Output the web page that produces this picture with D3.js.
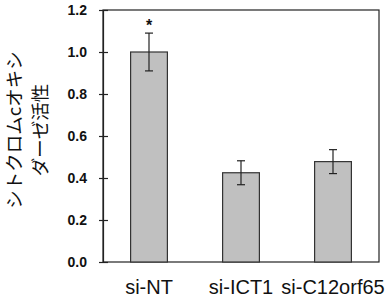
<!DOCTYPE html>
<html><head><meta charset="utf-8">
<script src="https://cdn.jsdelivr.net/npm/d3@7"></script>
<style>
html,body{margin:0;padding:0;background:#fff;}
svg{display:block;}
</style></head>
<body>
<script>
const categories = ["si-NT", "si-ICT1", "si-C12orf65"];
const values = [1.0, 0.425, 0.478];
const errors = [0.09, 0.057, 0.057];
const stars = ["*", "", ""];
const yTicks = [0, 0.2, 0.4, 0.6, 0.8, 1.0, 1.2];
const yTitleLines = ["シトクロムcオキシ", "ダーゼ活性"];

const W = 386, H = 306;
const m = {left: 103, right: 7, top: 10, bottom: 44};
const svg = d3.select("body").append("svg").attr("width", W).attr("height", H);

const x = d3.scaleBand().domain(categories).range([m.left, W - m.right]).paddingInner(0.6).paddingOuter(0.3);
const y = d3.scaleLinear().domain([0, 1.2]).range([H - m.bottom, m.top]);

// frame
svg.append("rect").attr("x", m.left).attr("y", y(1.2)).attr("width", W - m.right - m.left)
  .attr("height", y(0) - y(1.2)).attr("fill", "none").attr("stroke", "#222").attr("stroke-width", 1.2);

// y axis
const yAxis = d3.axisLeft(y).tickValues(yTicks).tickFormat(d3.format(".1f")).tickSizeInner(4).tickSizeOuter(0).tickPadding(12);
const ga = svg.append("g").attr("transform", `translate(${m.left},0)`).call(yAxis);
ga.select(".domain").attr("stroke", "#222").attr("stroke-width", 1.2);
ga.selectAll(".tick line").attr("x2", 5).attr("x1", -4).attr("stroke", "#222").attr("stroke-width", 1.2);
ga.selectAll(".tick text").attr("font-family", "Liberation Sans, Arial, sans-serif").attr("font-weight", "bold")
  .attr("font-size", 14).attr("fill", "#111");

// x axis labels
const gx = svg.append("g").attr("transform", `translate(0,${y(0)})`)
  .call(d3.axisBottom(x).tickSize(0).tickPadding(18));
gx.select(".domain").remove();
gx.selectAll(".tick text").attr("font-family", "Liberation Sans, Arial, sans-serif").attr("font-size", 20).attr("fill", "#111");

// bars
svg.selectAll("rect.bar").data(categories).enter().append("rect").attr("class", "bar")
  .attr("x", d => x(d)).attr("width", x.bandwidth())
  .attr("y", (d, i) => y(values[i])).attr("height", (d, i) => y(0) - y(values[i]))
  .attr("fill", "#c0c0c0").attr("stroke", "#333").attr("stroke-width", 1.2);

// error bars
const eg = svg.append("g").attr("stroke", "#222").attr("stroke-width", 1.2);
categories.forEach((c, i) => {
  const cx = x(c) + x.bandwidth() / 2;
  const t = y(values[i] + errors[i]), b = y(values[i] - errors[i]);
  eg.append("line").attr("x1", cx).attr("x2", cx).attr("y1", t).attr("y2", b);
  eg.append("line").attr("x1", cx - 4).attr("x2", cx + 4).attr("y1", t).attr("y2", t);
  eg.append("line").attr("x1", cx - 4).attr("x2", cx + 4).attr("y1", b).attr("y2", b);
  if (stars[i]) {
    svg.append("text").attr("x", cx).attr("y", t - 2).attr("text-anchor", "middle")
      .attr("font-family", "Liberation Sans, Arial, sans-serif").attr("font-size", 16).attr("font-weight", "bold")
      .attr("fill", "#111").text(stars[i]);
  }
});

// y title
const yt = svg.append("text").attr("transform", "translate(0,130) rotate(-90)")
  .attr("text-anchor", "middle").attr("font-family", "Noto Sans CJK JP, sans-serif").attr("font-size", 18.5).attr("fill", "#111");
yt.append("tspan").attr("x", 0).attr("y", 21).text(yTitleLines[0]);
yt.append("tspan").attr("x", 0).attr("y", 47).text(yTitleLines[1]);
</script>
</body></html>
